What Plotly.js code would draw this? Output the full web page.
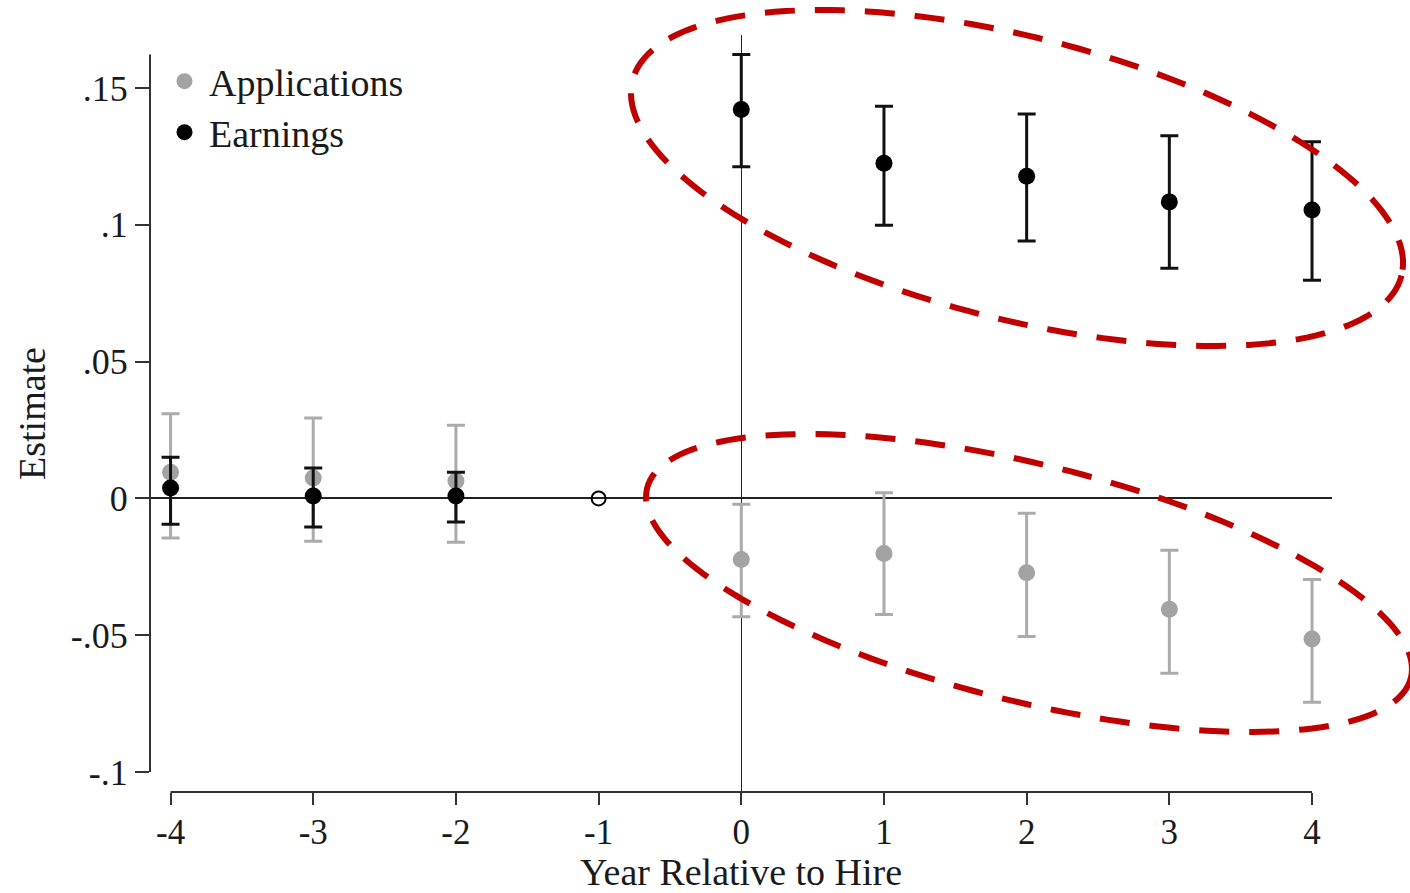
<!DOCTYPE html>
<html>
<head>
<meta charset="utf-8">
<script src="https://cdn.plot.ly/plotly-3.0.1.min.js"></script>
<style>html,body{margin:0;padding:0;background:#fff;}#chart{width:1410px;height:893px;}</style>
</head>
<body>
<div id="chart"></div>
<script>
// ---- data ----
const years = [-4, -3, -2, 0, 1, 2, 3, 4];
const tickYears = [-4, -3, -2, -1, 0, 1, 2, 3, 4];
const tickYearText = ['-4', '-3', '-2', '-1', '0', '1', '2', '3', '4'];
const appEst = [0.0096, 0.0075, 0.0064, -0.0223, -0.0201, -0.0272, -0.0405, -0.0514];
const appHi  = [0.0310, 0.0294, 0.0268, -0.0021, 0.0021, -0.0054, -0.0189, -0.0296];
const appLo  = [-0.0145, -0.0156, -0.0160, -0.0432, -0.0424, -0.0505, -0.0639, -0.0745];
const earnEst = [0.0038, 0.0009, 0.0009, 0.1422, 0.1225, 0.1178, 0.1084, 0.1054];
const earnHi  = [0.0151, 0.0111, 0.0096, 0.1623, 0.1434, 0.1405, 0.1326, 0.1304];
const earnLo  = [-0.0094, -0.0104, -0.0086, 0.1212, 0.0999, 0.0941, 0.0841, 0.0798];
const refYear = [-1];
const refValue = [0];
const yTickVals = [-0.1, -0.05, 0, 0.05, 0.1, 0.15];
const yTickText = ['-.1', '-.05', '0', '.05', '.1', '.15'];

// ---- layout geometry ----
const W = 1410, H = 893;
const mL = 150, mR = 78, mT = 35, mB = 101;
const plotW = W - mL - mR, plotH = H - mT - mB;
const xRange = [-4.144, 4.14];
const yRange = [-0.1073, 0.1694];
const FONT = 'Liberation Serif, Times New Roman, serif';

function xPaper(v) { return (v - xRange[0]) / (xRange[1] - xRange[0]); }
function yPaper(v) { return (v - yRange[0]) / (yRange[1] - yRange[0]); }
function pxToPaperX(px) { return (px - mL) / plotW; }
function pxToPaperY(py) { return (H - mB - py) / plotH; }

function ellipsePath(cx, cy, a, b, deg) {
  const t = deg * Math.PI / 180;
  let d = '';
  const n = 180;
  for (let i = 0; i <= n; i++) {
    const u = 2 * Math.PI * i / n;
    const x = cx + a * Math.cos(u) * Math.cos(t) - b * Math.sin(u) * Math.sin(t);
    const y = cy + a * Math.cos(u) * Math.sin(t) + b * Math.sin(u) * Math.cos(t);
    d += (i === 0 ? 'M ' : ' L ') + pxToPaperX(x).toFixed(5) + ' ' + pxToPaperY(y).toFixed(5);
  }
  return d + ' Z';
}

const diff = (a, b) => a.map((v, i) => v - b[i]);

const traces = [
  {
    x: years, y: appEst, type: 'scatter', mode: 'markers', name: 'Applications', legend: 'legend',
    marker: { color: '#a3a3a3', size: 17 },
    error_y: { type: 'data', symmetric: false, array: diff(appHi, appEst), arrayminus: diff(appEst, appLo),
               color: '#ababab', thickness: 3, width: 9 },
    cliponaxis: false
  },
  {
    x: years, y: earnEst, type: 'scatter', mode: 'markers', name: 'Earnings', legend: 'legend2',
    marker: { color: '#000000', size: 17 },
    error_y: { type: 'data', symmetric: false, array: diff(earnHi, earnEst), arrayminus: diff(earnEst, earnLo),
               color: '#111111', thickness: 3, width: 9 },
    cliponaxis: false
  },
  {
    x: refYear, y: refValue, type: 'scatter', mode: 'markers', showlegend: false,
    marker: { symbol: 'circle-open', color: '#000', size: 14, line: { width: 2, color: '#000' } },
    cliponaxis: false
  }
];

const yTop = Math.max(...earnHi, ...appHi);
const red = '#c00000';
const legendFont = { family: FONT, size: 38, color: '#1a1a1a' };

const layout = {
  width: W, height: H,
  margin: { l: mL, r: mR, t: mT, b: mB },
  paper_bgcolor: '#ffffff', plot_bgcolor: '#ffffff',
  font: { family: FONT, color: '#1a1a1a', size: 36 },
  showlegend: true,
  legend: { x: pxToPaperX(160), y: pxToPaperY(50), xanchor: 'left', yanchor: 'top', bgcolor: 'rgba(0,0,0,0)',
            font: legendFont, itemwidth: 39 },
  legend2: { x: pxToPaperX(160), y: pxToPaperY(101), xanchor: 'left', yanchor: 'top', bgcolor: 'rgba(0,0,0,0)',
             font: legendFont, itemwidth: 39 },
  xaxis: {
    range: xRange, tickvals: tickYears, ticktext: tickYearText, ticks: 'outside', ticklen: 12, tickwidth: 2, tickcolor: '#333',
    showline: false, showgrid: false, zeroline: true, zerolinecolor: '#222', zerolinewidth: 1.5,
    tickfont: { family: FONT, size: 35, color: '#1a1a1a' }, ticklabelstandoff: -3,
    title: { text: 'Year Relative to Hire', font: { family: FONT, size: 38, color: '#1a1a1a' }, standoff: 2 }
  },
  yaxis: {
    range: yRange, tickvals: yTickVals, ticktext: yTickText, ticks: 'outside', ticklen: 14, tickwidth: 2, tickcolor: '#333',
    showline: false, showgrid: false, zeroline: true, zerolinecolor: '#222', zerolinewidth: 2,
    tickfont: { family: FONT, size: 36, color: '#1a1a1a' },
    title: { text: 'Estimate', font: { family: FONT, size: 38, color: '#1a1a1a' }, standoff: 13 }
  },
  shapes: [
    { type: 'line', xref: 'paper', yref: 'paper', x0: xPaper(-4), x1: xPaper(4), y0: 0, y1: 0,
      line: { color: '#333', width: 2 } },
    { type: 'line', xref: 'paper', yref: 'paper', x0: 0, x1: 0, y0: yPaper(-0.1), y1: yPaper(yTop),
      line: { color: '#333', width: 2 } },
    { type: 'path', xref: 'paper', yref: 'paper', path: ellipsePath(1017, 178, 396.7, 141, 14.25),
      line: { color: red, width: 6, dash: '30px,20px' }, layer: 'above' },
    { type: 'path', xref: 'paper', yref: 'paper', path: ellipsePath(1029, 583, 393.5, 118.4, 13.94),
      line: { color: red, width: 6, dash: '30px,20px' }, layer: 'above' }
  ]
};

Plotly.newPlot('chart', traces, layout, { staticPlot: true, displayModeBar: false });
</script>
</body>
</html>
